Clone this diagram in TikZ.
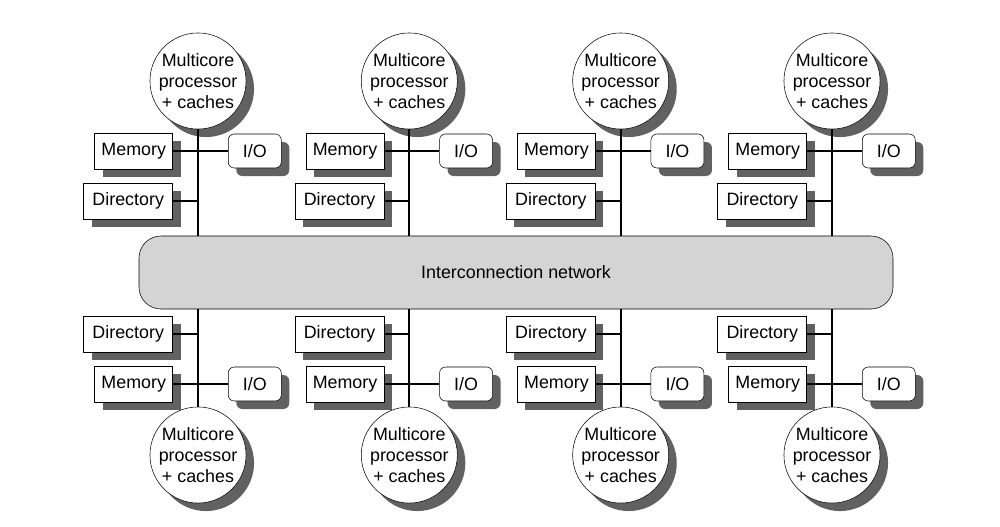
\documentclass[tikz,border=0pt]{standalone}
\usepackage{fontspec}
\setmainfont{Liberation Sans}
\usetikzlibrary{shadows}

\begin{document}
\begin{tikzpicture}[x=0.75pt,y=-0.75pt,font=\fontsize{13.4}{16}\selectfont]
\tikzstyle{boxshadow} = [drop shadow={shadow xshift=6pt, shadow yshift=-6pt,
fill=black!62, opacity=1}]
\tikzstyle{cpu} = [circle, draw, thin, fill=white, boxshadow,
minimum size=70.5pt, inner sep=0pt, align=center]
\tikzstyle{block} = [rectangle, draw, thin, fill=white, boxshadow,
minimum height=27pt, inner sep=0pt, anchor=east]
\tikzstyle{io} = [rectangle, draw, thin, fill=white, boxshadow, rounded corners=4.5pt,
minimum width=39.75pt, minimum height=25.5pt, inner sep=0pt, anchor=west]
\tikzstyle{net} = [rectangle, draw, thin, fill=black!17, rounded corners=16.5pt,
minimum width=565.5pt, minimum height=54.75pt]
\tikzstyle{line} = [draw, line width=1.5pt]

\useasboundingbox (0,0) rectangle (1000,526);

\node [net] (network) at (516,272.5) {Interconnection network};

\foreach \i/\x in {1/198,2/409.3,3/620.7,4/832}
{
% upper half
\node [cpu] (cpuT\i) at (\x,81) {Multicore\\processor\\+ caches};
\node [block, minimum width=58.5pt] (memT\i) at (\x-25,151) {Memory};
\node [block, minimum width=66.75pt] (dirT\i) at (\x-25,201) {Directory};
\node [io] (ioT\i) at (\x+30,151) {I/O};
% lower half
\node [cpu] (cpuB\i) at (\x,455) {Multicore\\processor\\+ caches};
\node [block, minimum width=66.75pt] (dirB\i) at (\x-25,334) {Directory};
\node [block, minimum width=58.5pt] (memB\i) at (\x-25,384) {Memory};
\node [io] (ioB\i) at (\x+30,384) {I/O};

\path [line] (cpuT\i.south) -- (cpuT\i.south |- network.north);
\path [line] (memT\i.east) -- (ioT\i.west);
\path [line] (dirT\i.east) -- (dirT\i.east -| cpuT\i.south);
\path [line] (cpuB\i.north) -- (cpuB\i.north |- network.south);
\path [line] (memB\i.east) -- (ioB\i.west);
\path [line] (dirB\i.east) -- (dirB\i.east -| cpuB\i.north);
}
\end{tikzpicture}
\end{document}
